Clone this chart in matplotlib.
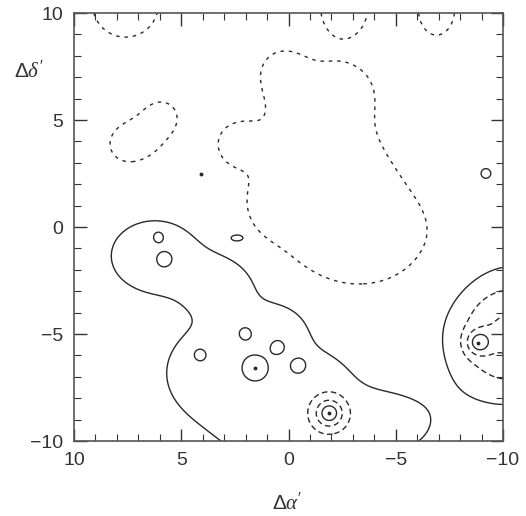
import matplotlib
matplotlib.use('Agg')
import matplotlib.pyplot as plt
import numpy as np

plt.rcParams['font.family'] = ['Liberation Sans', 'DejaVu Sans']
plt.rcParams['mathtext.fontset'] = 'custom'
plt.rcParams['mathtext.rm'] = 'Liberation Sans'
plt.rcParams['mathtext.it'] = 'Liberation Serif:italic'

# broad positive ridge (lower half of the map): centre, peak, widths
ridge_x = [6.2, 3.0, 3.3, 0.5, -3.6, 0.4, -1.5]
ridge_y = [-1.35, -2.7, -6.8, -9.0, -9.2, -4.9, -7.2]
ridge_amp = [2.0, 1.8, 2.0, 2.0, 2.0, 1.8, 1.5]
ridge_sx = [1.75, 1.2, 2.0, 1.8, 2.4, 1.1, 1.0]
ridge_sy = [1.4, 1.0, 1.8, 1.6, 1.3, 1.1, 1.0]

# other components: negative hole, small clumps, right-hand source, dips
blob_x = [-3.4, -1.6, -1.4, 2.4, 0.5, 0.3, -2.7, 7.6, -2.6, -6.9, 7.6, 6.7, 5.9,
          -10.3, -8.85, -1.9, 2.35, -9.2,
          6.07, 5.8, 2.0, 4.1, 1.56, 0.5, -0.45]
blob_y = [-0.5, 2.8, 6.0, 3.9, 1.0, 7.3, 6.4, 10.4, 10.3, 10.2, 3.85, 4.2, 5.15,
          -5.0, -5.4, -8.7, -0.5, 2.5,
          -0.5, -1.5, -5.0, -6.0, -6.6, -5.6, -6.5]
blob_amp = [-1.8, -1.8, -1.8, -1.5, -1.5, -1.4, -1.3, -3.0, -3.0, -3.0, -1.5, -1.3, -1.5,
            3.3, 2.2, 3.0, 1.6, 1.6,
            -0.9, -0.9, -1.0, -1.0, -1.1, -1.0, -1.0]
blob_sx = [2.8, 2.3, 1.6, 0.8, 0.9, 0.8, 0.75, 1.03, 0.74, 0.57, 0.7, 0.75, 0.7,
           2.05, 0.4, 0.47, 0.3, 0.25,
           0.2, 0.4, 0.24, 0.24, 0.6, 0.3, 0.36]
blob_sy = [1.95, 2.0, 1.3, 0.8, 0.9, 0.8, 0.75, 1.03, 0.95, 0.83, 0.7, 0.75, 0.7,
           2.1, 0.4, 0.47, 0.15, 0.25,
           0.2, 0.4, 0.24, 0.24, 0.6, 0.3, 0.36]

levels = [-1, 1, 2, 3, 4]
dot_x = [1.56, -8.85, 4.1, -1.9]
dot_y = [-6.6, -5.4, 2.5, -8.7]


def gauss_sum(X, Y, xs, ys, amps, sxs, sys):
    Z = np.zeros_like(X)
    for bx, by, a, sx, sy in zip(xs, ys, amps, sxs, sys):
        Z += a * np.exp(-((X - bx) ** 2 / (2 * sx ** 2) + (Y - by) ** 2 / (2 * sy ** 2)))
    return Z


x = np.linspace(-10, 10, 600)
y = np.linspace(-10, 10, 600)
X, Y = np.meshgrid(x, y)
R = gauss_sum(X, Y, ridge_x, ridge_y, ridge_amp, ridge_sx, ridge_sy)
# the ridge is a plateau between the first two contour levels
R = np.where(R > 1, 1 + 0.7 * np.tanh((R - 1) / 0.7), R)
Z = R + gauss_sum(X, Y, blob_x, blob_y, blob_amp, blob_sx, blob_sy)

fig = plt.figure(figsize=(5.26, 5.16), dpi=100)
ax = fig.add_axes([0.1407, 0.1453, 0.8156, 0.8295])

styles = [(0, (2.5, 3.5)), 'solid', (0, (4, 2.5)), (0, (4, 2.5)), 'solid']
ax.contour(X, Y, Z, levels=levels, colors='#2a2a2a', linewidths=1.0,
           linestyles=styles)
ax.plot(dot_x, dot_y, 'o', ms=1.8, color='#2a2a2a')

ax.set_xlim(10, -10)
ax.set_ylim(-10, 10)
ax.set_xticks([10, 5, 0, -5, -10])
ax.set_yticks([-10, -5, 0, 5, 10])
ax.set_xticks(np.arange(-10, 11, 1), minor=True)
ax.set_yticks(np.arange(-10, 11, 1), minor=True)
ax.tick_params(which='both', direction='in', top=True, right=True,
               labelsize=14, colors='#333333')
ax.tick_params(which='major', length=9, width=1.0, pad=8)
ax.tick_params(which='minor', length=5, width=0.8)
for s in ax.spines.values():
    s.set_color('#555555')
    s.set_linewidth(1.2)

fig.text(0.545, 0.012, r'$\Delta\alpha^{\prime}$', fontsize=15, ha='center',
         color='#333333')
fig.text(0.055, 0.85, r'$\Delta\delta^{\prime}$', fontsize=15, ha='center',
         color='#333333')

fig.savefig('out.png', dpi=100)
